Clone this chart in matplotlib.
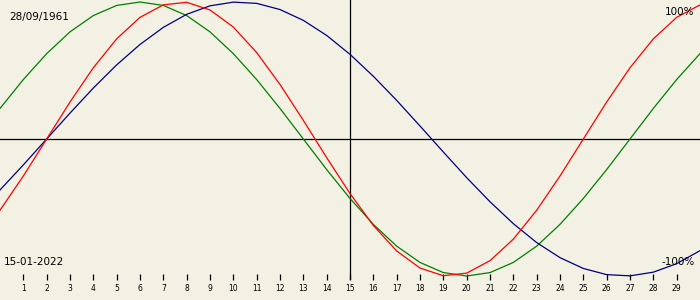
import numpy as np
import matplotlib
matplotlib.use('Agg')
import matplotlib.pyplot as plt

# Biorhythm chart, birth 28/09/1961, centred on 15-01-2022
birth_label = '28/09/1961'
date_label = '15-01-2022'
days = list(range(0, 31))
tick_days = list(range(1, 30))

# one value per day (day 0 .. day 30)
physical = [-0.520, -0.270, 0.000, 0.270, 0.520, 0.731, 0.888, 0.979, 0.998, 0.942,
            0.817, 0.631, 0.398, 0.136, -0.136, -0.398, -0.631, -0.817, -0.942, -0.998,
            -0.979, -0.888, -0.731, -0.520, -0.270, 0.000, 0.270, 0.520, 0.731, 0.888,
            0.979]
emotional = [0.223, 0.434, 0.623, 0.782, 0.901, 0.975, 1.000, 0.975, 0.901, 0.782,
             0.623, 0.434, 0.223, 0.000, -0.223, -0.434, -0.623, -0.782, -0.901, -0.975,
             -1.000, -0.975, -0.901, -0.782, -0.623, -0.434, -0.223, 0.000, 0.223, 0.434,
             0.623]
intellectual = [-0.372, -0.189, 0.000, 0.189, 0.372, 0.541, 0.690, 0.815, 0.910, 0.972,
                0.999, 0.990, 0.945, 0.866, 0.756, 0.618, 0.458, 0.282, 0.095, -0.095,
                -0.282, -0.458, -0.618, -0.756, -0.866, -0.945, -0.990, -0.999, -0.972, -0.910,
                -0.815]

bg = '#f3f0e4'
W, H = 700, 300

fig = plt.figure(figsize=(7, 3), dpi=100, facecolor=bg)
# axes from top of picture down to y=280px
ax = fig.add_axes([0, 20 / H, 1, 280 / H])
ax.set_facecolor(bg)
ax.set_xlim(0, 30)
ax.set_ylim(-141 / 137, 139 / 137)

ax.axhline(0, color='black', lw=0.9, zorder=1)
ax.axvline(15, color='black', lw=0.9, zorder=1)

ax.plot(days, emotional, color='#008000', lw=0.9, zorder=2)
ax.plot(days, intellectual, color='#000080', lw=0.9, zorder=2)
ax.plot(days, physical, color='#ff0000', lw=0.9, zorder=3)

for s in ax.spines.values():
    s.set_visible(False)
ax.set_yticks([])
ax.set_xticks(tick_days)
ax.set_xticklabels([str(d) for d in tick_days])
ax.tick_params(axis='x', direction='in', length=4, width=0.9, pad=3,
               labelsize=5.5, colors='black')

def px(x, y, s, ha='left'):
    fig.text(x / W, 1 - y / H, s, ha=ha, va='center', fontsize=7.5, color='black')

px(9, 17, birth_label)
px(4, 262, date_label)
px(694, 12, '100%', ha='right')
px(695, 262, '-100%', ha='right')

fig.savefig('out.png', dpi=100, facecolor=bg)
